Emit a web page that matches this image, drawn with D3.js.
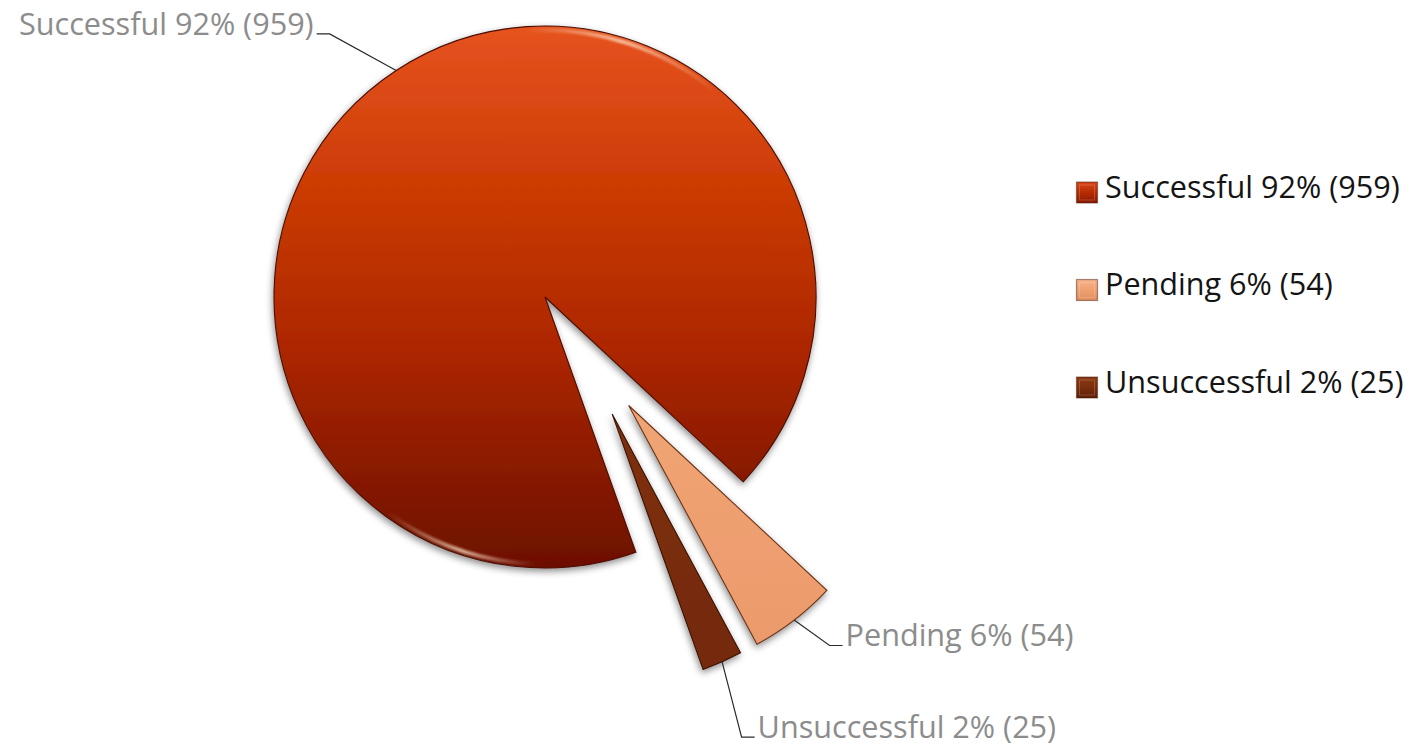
<!DOCTYPE html>
<html><head><meta charset="utf-8">
<script src="https://cdn.jsdelivr.net/npm/d3@7"></script>
<style>body{margin:0;background:#fff;overflow:hidden}</style>
</head><body>
<svg id="chart" width="1410" height="747"></svg>
<script>
// ---- data ----
const categories = ["Successful", "Pending", "Unsuccessful"];
const values = [959, 54, 25];
const percentLabels = ["92%", "6%", "2%"];

// ---- style / layout ----
const W = 1410, H = 747;
const cx = 545, cy = 297, R = 271;
const startDeg = 160.4;
const explodeDist = [0, 137, 135];
const explodeShiftDeg = [0, 0, -5.9];
const labelCfg = [
  {r: 340, dA: -6, side: "left"},
  {r: 313, dA: -2.3, side: "right"},
  {r: 348, dA: 2.1, side: "right"}
];
const fills = ["url(#gMain)", "url(#gPend)", "url(#gUns)"];
const strokes = ["#4a0d00", "#6a3518", "#3a1200"];
const legendFills = ["url(#lg0)", "url(#lg1)", "url(#lg2)"];
const font = "'Open Sans', 'DejaVu Sans', sans-serif";
const fontSize = 30.6;

const rad = d => d * Math.PI / 180;
const svg = d3.select("#chart");
const defs = svg.append("defs");

function linGrad(id, stops, attrs) {
  const g = defs.append("linearGradient").attr("id", id);
  Object.entries(attrs || {x1:0,y1:0,x2:0,y2:1}).forEach(([k,v]) => g.attr(k, v));
  stops.forEach(([o, c, op]) => g.append("stop").attr("offset", o).attr("stop-color", c).attr("stop-opacity", op == null ? 1 : op));
  return g;
}
// main slice gradient in the pie group's local coordinates (centre at 0,0)
linGrad("gMain", [[0, "#E6531F"], [0.3, "#CB3B04"], [0.6, "#AC2600"], [1, "#6C1000"]],
  {gradientUnits: "userSpaceOnUse", x1: 0, y1: -R, x2: 0, y2: R});
linGrad("gPend", [[0, "#F0A474"], [1, "#EC9A6C"]]);
linGrad("gUns", [[0, "#7E300C"], [1, "#742A0A"]]);
linGrad("lg0", [[0, "#D8461A"], [0.5, "#B72C02"], [1, "#8A1A00"]]);
linGrad("lg1", [[0, "#F6B288"], [0.5, "#EFA071"], [1, "#E08D5E"]]);
linGrad("lg2", [[0, "#8C3A12"], [0.5, "#7A2E0C"], [1, "#5E2006"]]);
linGrad("hl", [[0, "#FFE6CC", 0], [0.5, "#FFE6CC", 0.9], [1, "#FFE6CC", 0]], {x1: 0, y1: 0, x2: 1, y2: 0});

const sh = defs.append("filter").attr("id", "shadow").attr("x", "-20%").attr("y", "-20%").attr("width", "140%").attr("height", "140%");
sh.append("feDropShadow").attr("dx", -1).attr("dy", 3).attr("stdDeviation", 3.5)
  .attr("flood-color", "#000").attr("flood-opacity", 0.45);
const bl = defs.append("filter").attr("id", "blur");
bl.append("feGaussianBlur").attr("stdDeviation", 1.2);

const pie = d3.pie().sort(null).value(d => d)
  .startAngle(rad(startDeg)).endAngle(rad(startDeg) + 2 * Math.PI);
const arcs = pie(values);
const arc = d3.arc().innerRadius(0).outerRadius(R);

const pieG = svg.append("g").attr("transform", `translate(${cx},${cy})`);

arcs.forEach((a, i) => {
  const mid = (a.startAngle + a.endAngle) / 2;
  const ea = mid + rad(explodeShiftDeg[i]);
  a.ox = explodeDist[i] * Math.sin(ea);
  a.oy = -explodeDist[i] * Math.cos(ea);
  a.mid = mid;
});

// slices
pieG.selectAll("path.slice").data(arcs).join("path")
  .attr("class", "slice")
  .attr("transform", d => `translate(${d.ox},${d.oy})`)
  .attr("d", arc)
  .attr("fill", (d, i) => fills[i])
  .attr("stroke", (d, i) => strokes[i])
  .attr("stroke-width", 1.1)
  .attr("stroke-linejoin", "miter")
  .attr("filter", "url(#shadow)");

// rim highlights on main slice
const hlArc = d3.arc().innerRadius(R - 6).outerRadius(R - 2).cornerRadius(2);
[[rad(-4), rad(40)], [rad(182), rad(216)]].forEach(([s, e]) => {
  pieG.append("path")
    .attr("d", hlArc({startAngle: s, endAngle: e}))
    .attr("fill", "url(#hl)")
    .attr("opacity", 0.8)
    .attr("filter", "url(#blur)");
});

// leader lines and labels
const labelG = svg.append("g").attr("transform", `translate(${cx},${cy})`);
arcs.forEach((a, i) => {
  const cfg = labelCfg[i];
  const p0 = [a.ox + R * Math.sin(a.mid), a.oy - R * Math.cos(a.mid)];
  const la = a.mid + rad(cfg.dA);
  const p1 = [a.ox + cfg.r * Math.sin(la), a.oy - cfg.r * Math.cos(la)];
  const dir = cfg.side === "left" ? -1 : 1;
  const p2 = [p1[0] + dir * 13, p1[1]];
  labelG.append("path")
    .attr("d", d3.line()([p0, p1, p2]))
    .attr("fill", "none").attr("stroke", "#2a2a2a").attr("stroke-width", 1.2);
  labelG.append("text")
    .attr("x", p2[0] + dir * 3).attr("y", p2[1] + 1)
    .attr("text-anchor", cfg.side === "left" ? "end" : "start")
    .attr("font-family", font).attr("font-size", fontSize)
    .attr("fill", "#8c8c8c")
    .text(`${categories[i]} ${percentLabels[i]} (${values[i]})`);
});

// legend
const legY = d3.scalePoint().domain(categories).range([192.5, 387.5]);
const leg = svg.append("g");
categories.forEach((c, i) => {
  const y = legY(c);
  leg.append("rect").attr("x", 1076.5).attr("y", y - 10.5).attr("width", 21).attr("height", 21)
    .attr("fill", legendFills[i]).attr("stroke", "rgba(60,20,0,0.45)").attr("stroke-width", 1.2);
  leg.append("rect").attr("x", 1079.5).attr("y", y - 7.5).attr("width", 15).attr("height", 15)
    .attr("fill", "none").attr("stroke", "rgba(255,255,255,0.18)").attr("stroke-width", 1);
  leg.append("text").attr("x", 1105).attr("y", y + 5)
    .attr("font-family", font).attr("font-size", fontSize).attr("fill", "#141414")
    .text(`${c} ${percentLabels[i]} (${values[i]})`);
});
</script>
</body></html>
